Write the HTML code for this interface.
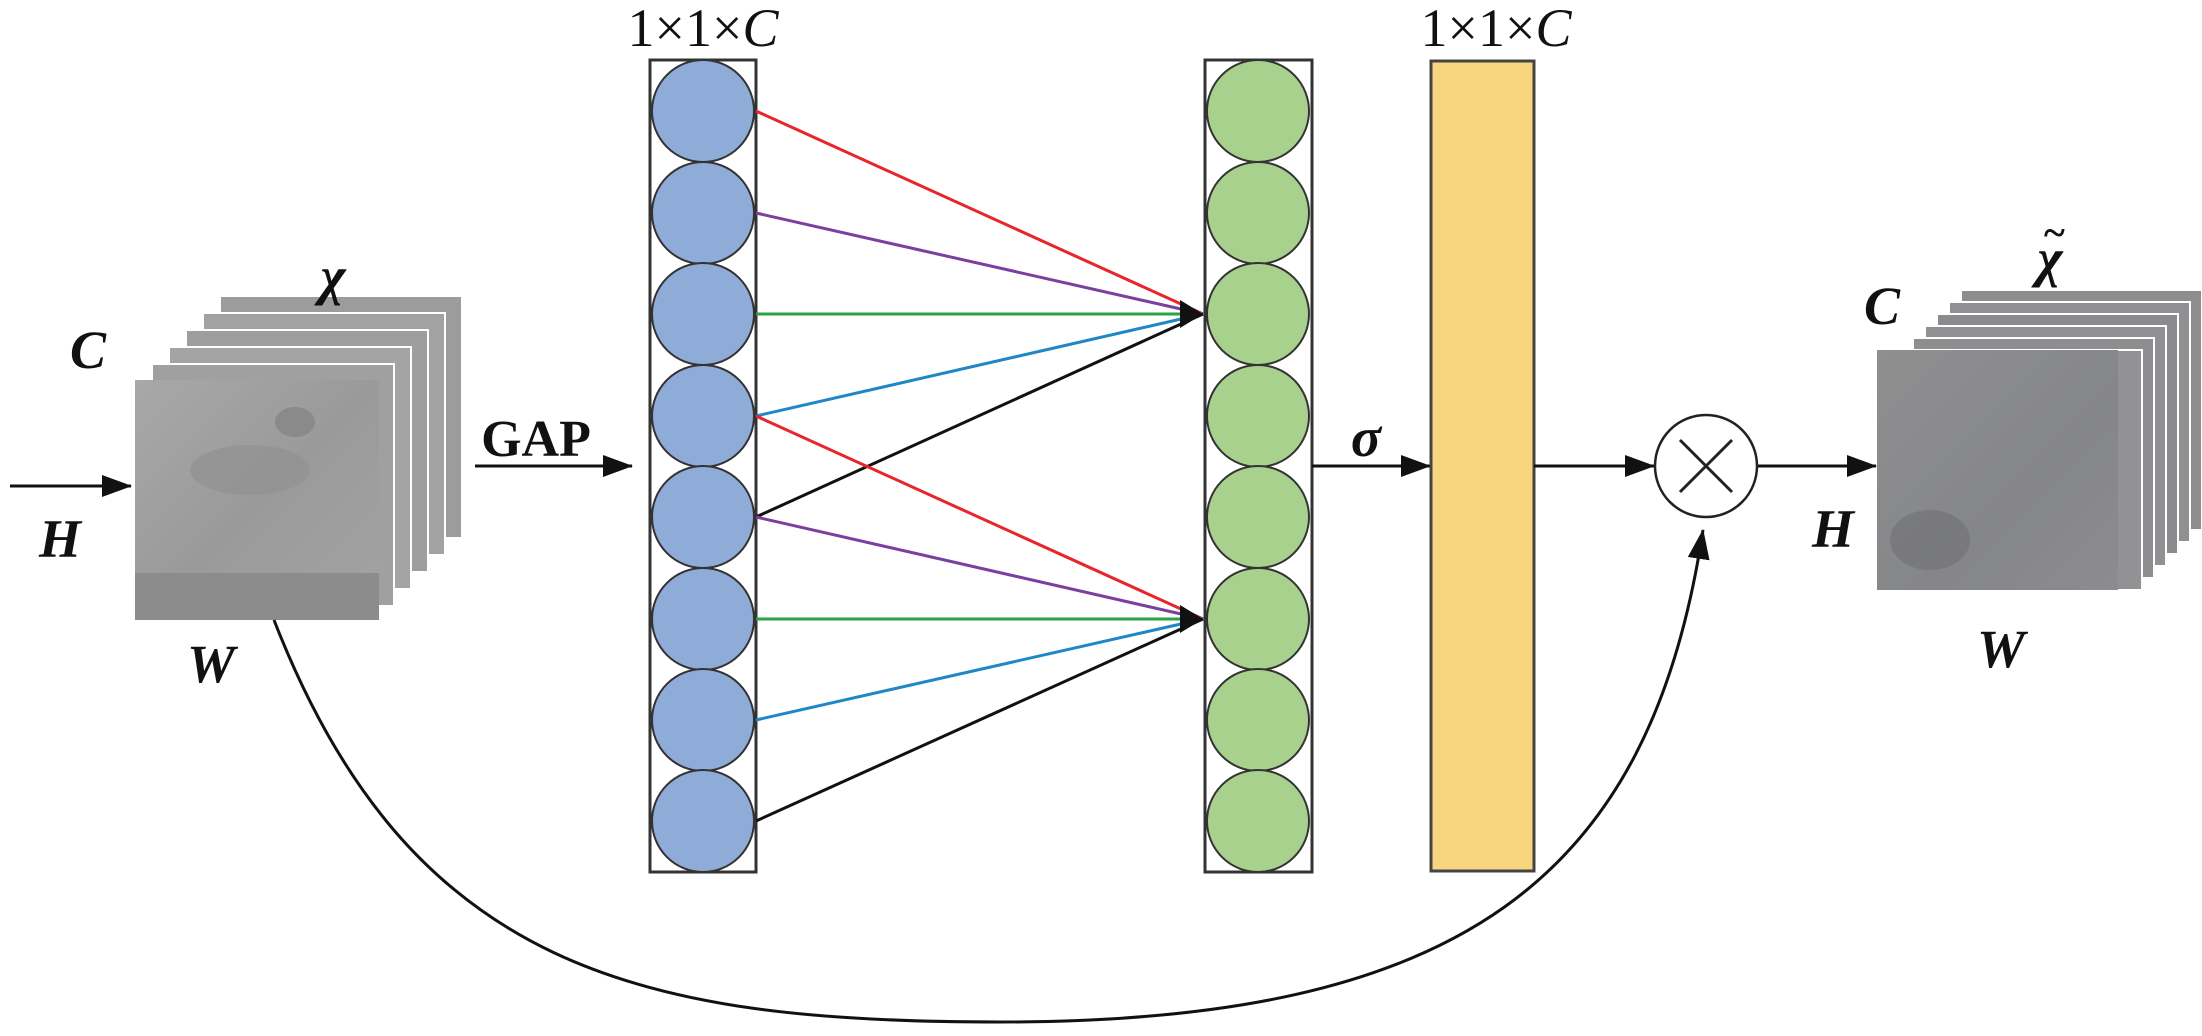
<!DOCTYPE html>
<html><head><meta charset="utf-8"><style>
html,body{margin:0;padding:0;background:#fff;}
svg{display:block;}
text{font-family:"Liberation Serif",serif;fill:#111;}
.it{font-style:italic;font-weight:bold;}
</style></head><body>
<svg width="2202" height="1036" viewBox="0 0 2202 1036" xmlns="http://www.w3.org/2000/svg">
<defs>
<marker id="ab" markerWidth="30" markerHeight="22" refX="29" refY="11" orient="auto" markerUnits="userSpaceOnUse">
<path d="M0,0 L30,11 L0,22 z" fill="#111"/></marker>
<linearGradient id="gL" x1="0" y1="0" x2="1" y2="1">
<stop offset="0" stop-color="#a8a8a8"/><stop offset="0.5" stop-color="#9a9a9a"/><stop offset="1" stop-color="#a3a3a3"/></linearGradient>
<linearGradient id="gR" x1="0" y1="0" x2="1" y2="1">
<stop offset="0" stop-color="#8f8f90"/><stop offset="0.6" stop-color="#858689"/><stop offset="1" stop-color="#8c8c8e"/></linearGradient>
</defs>

<g>
<rect x="220" y="296" width="242" height="242" fill="#9c9c9c" stroke="#fff" stroke-width="2"/>
<rect x="203" y="313" width="242" height="242" fill="#a2a2a2" stroke="#fff" stroke-width="2"/>
<rect x="186" y="330" width="242" height="242" fill="#9e9e9e" stroke="#fff" stroke-width="2"/>
<rect x="169" y="347" width="242" height="242" fill="#a4a4a4" stroke="#fff" stroke-width="2"/>
<rect x="152" y="364" width="242" height="242" fill="#a0a0a0" stroke="#fff" stroke-width="2"/>
<rect x="135" y="380" width="244" height="240" fill="url(#gL)"/>
<rect x="135" y="573" width="244" height="47" fill="#8c8c8c"/>
<ellipse cx="295" cy="422" rx="20" ry="15" fill="#8a8a8a"/>
<ellipse cx="250" cy="470" rx="60" ry="25" fill="#909090" opacity="0.6"/>
</g>
<text x="88" y="368" font-size="54" class="it" text-anchor="middle">C</text>
<text x="333" y="294" font-size="54" class="it" text-anchor="middle">χ</text>
<text x="211" y="682" font-size="54" class="it" text-anchor="middle">W</text>
<text x="60" y="557" font-size="54" class="it" text-anchor="middle">H</text>
<line x1="10" y1="486" x2="131" y2="486" stroke="#111" stroke-width="3" marker-end="url(#ab)"/>

<text x="536" y="456" font-size="52" font-weight="bold" text-anchor="middle">GAP</text>
<line x1="475" y1="466" x2="632" y2="466" stroke="#111" stroke-width="3" marker-end="url(#ab)"/>

<rect x="650" y="60" width="106" height="812" fill="#fff" stroke="#333" stroke-width="3"/>
<g fill="#8fabd8" stroke="#333" stroke-width="2">
<circle cx="703" cy="111" r="51"/><circle cx="703" cy="213" r="51"/>
<circle cx="703" cy="314" r="51"/><circle cx="703" cy="416" r="51"/>
<circle cx="703" cy="517" r="51"/><circle cx="703" cy="619" r="51"/>
<circle cx="703" cy="720" r="51"/><circle cx="703" cy="821" r="51"/>
</g>
<text x="703" y="46" font-size="54" text-anchor="middle">1×1×<tspan font-style="italic">C</tspan></text>

<g stroke-width="3">
<line x1="756" y1="111" x2="1203" y2="314" stroke="#e8252a"/>
<line x1="756" y1="213" x2="1203" y2="314" stroke="#7b3fa0"/>
<line x1="756" y1="314" x2="1203" y2="314" stroke="#2da043"/>
<line x1="756" y1="416" x2="1203" y2="314" stroke="#1f88c4"/>
<line x1="756" y1="517" x2="1203" y2="314" stroke="#111"/>
<line x1="756" y1="416" x2="1203" y2="619" stroke="#e8252a"/>
<line x1="756" y1="517" x2="1203" y2="619" stroke="#7b3fa0"/>
<line x1="756" y1="619" x2="1203" y2="619" stroke="#2da043"/>
<line x1="756" y1="720" x2="1203" y2="619" stroke="#1f88c4"/>
<line x1="756" y1="821" x2="1203" y2="619" stroke="#111"/>
</g>
<path d="M1203,314 L1180,300 L1180,328 z" fill="#111"/>
<path d="M1203,619 L1180,605 L1180,633 z" fill="#111"/>

<rect x="1205" y="60" width="107" height="812" fill="#fff" stroke="#333" stroke-width="3"/>
<g fill="#a9d18e" stroke="#333" stroke-width="2">
<circle cx="1258" cy="111" r="51"/><circle cx="1258" cy="213" r="51"/>
<circle cx="1258" cy="314" r="51"/><circle cx="1258" cy="416" r="51"/>
<circle cx="1258" cy="517" r="51"/><circle cx="1258" cy="619" r="51"/>
<circle cx="1258" cy="720" r="51"/><circle cx="1258" cy="821" r="51"/>
</g>

<text x="1366" y="456" font-size="56" class="it" text-anchor="middle">σ</text>
<line x1="1312" y1="466" x2="1430" y2="466" stroke="#111" stroke-width="3" marker-end="url(#ab)"/>

<rect x="1431" y="61" width="103" height="810" fill="#f8d57e" stroke="#444" stroke-width="3"/>
<text x="1496" y="46" font-size="54" text-anchor="middle">1×1×<tspan font-style="italic">C</tspan></text>

<line x1="1534" y1="466" x2="1654" y2="466" stroke="#111" stroke-width="3" marker-end="url(#ab)"/>
<circle cx="1706" cy="466" r="51" fill="#fff" stroke="#222" stroke-width="2.5"/>
<line x1="1680" y1="440" x2="1732" y2="492" stroke="#222" stroke-width="3"/>
<line x1="1732" y1="440" x2="1680" y2="492" stroke="#222" stroke-width="3"/>
<line x1="1758" y1="466" x2="1876" y2="466" stroke="#111" stroke-width="3" marker-end="url(#ab)"/>

<path d="M274,620 C410,970 640,1022 1000,1022 C1460,1022 1650,880 1703,530" fill="none" stroke="#111" stroke-width="3" marker-end="url(#ab)"/>

<g>
<rect x="1961" y="290" width="241" height="240" fill="#8d8d8f" stroke="#fff" stroke-width="2"/>
<rect x="1949" y="302" width="241" height="240" fill="#909092" stroke="#fff" stroke-width="2"/>
<rect x="1937" y="314" width="241" height="240" fill="#8b8b8d" stroke="#fff" stroke-width="2"/>
<rect x="1925" y="326" width="241" height="240" fill="#919193" stroke="#fff" stroke-width="2"/>
<rect x="1913" y="338" width="241" height="240" fill="#8e8e90" stroke="#fff" stroke-width="2"/>
<rect x="1901" y="350" width="241" height="240" fill="#929294" stroke="#fff" stroke-width="2"/>
<rect x="1877" y="350" width="241" height="240" fill="url(#gR)"/>
<ellipse cx="1930" cy="540" rx="40" ry="30" fill="#707075" opacity="0.6"/>
</g>
<text x="1882" y="324" font-size="54" class="it" text-anchor="middle">C</text>
<text x="2050" y="276" font-size="54" class="it" text-anchor="middle">χ</text>
<text x="2054" y="246" font-size="40" class="it" text-anchor="middle">~</text>
<text x="1833" y="547" font-size="54" class="it" text-anchor="middle">H</text>
<text x="2001" y="667" font-size="54" class="it" text-anchor="middle">W</text>
</svg>
</body></html>
